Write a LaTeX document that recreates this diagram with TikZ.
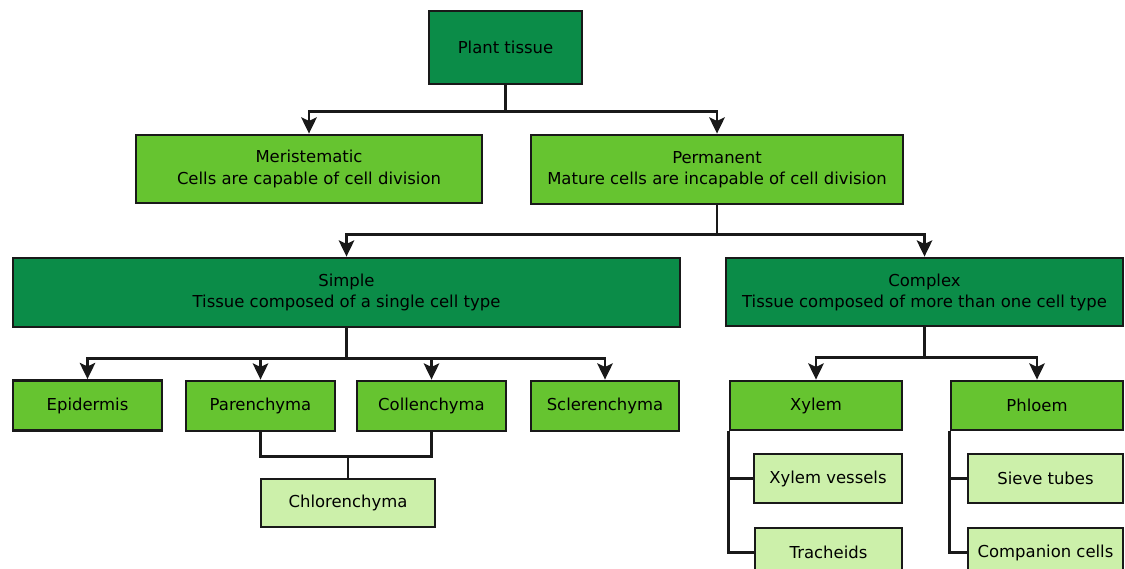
\documentclass[tikz,border=0pt]{standalone}
\usepackage{fontspec}
\setmainfont{DejaVu Sans}
\usepackage{xcolor}
\usepackage{tikz}
\usetikzlibrary{arrows.meta,positioning,calc}
\definecolor{tissuedark}{RGB}{11,140,72}
\definecolor{tissuemid}{RGB}{102,196,48}
\definecolor{tissuelight}{RGB}{204,240,170}

\begin{document}
\begin{tikzpicture}[
    x=0.025cm,y=-0.025cm,
    >={Stealth[length=11.5pt,width=11pt,inset=2.5pt]},
    flow/.style={->,line width=2pt,draw=black!90},
    link/.style={line width=2pt,draw=black!90},
    rootbox/.style={draw=black!90,line width=2pt,fill=tissuedark,inner sep=0pt,
      align=center,font=\fontsize{11.7}{15}\selectfont},
    groupbox/.style={draw=black!90,line width=2pt,fill=tissuemid,inner sep=0pt,
      align=center,font=\fontsize{11.7}{15}\selectfont},
    leafbox/.style={draw=black!90,line width=2pt,fill=tissuelight,inner sep=0pt,
      align=center,font=\fontsize{11.7}{15}\selectfont}
  ]
    \useasboundingbox (0,0) rectangle (1125,568);
    \clip (0,0) rectangle (1125,568);

    % Top level: plant tissue and its two classes.
    \node[rootbox,minimum width=3.825cm,minimum height=1.825cm] (plant) at (505.5,47.5) {Plant tissue};
    \node[groupbox,minimum width=8.65cm,minimum height=1.7cm] (meri) at (309,169)
      {Meristematic\\Cells are capable of cell division};
    \node[groupbox,minimum width=9.3cm,minimum height=1.725cm] (perm) at (717,169.5)
      {Permanent\\Mature cells are incapable of cell division};
    \draw[link] (plant.south) -- ++(0,26) coordinate (forkA);
    \draw[flow] (forkA) -| (meri.north);
    \draw[flow] (forkA) -| (perm.north);

    % Permanent tissue: simple and complex.
    \node[rootbox,minimum width=16.675cm,minimum height=1.725cm] (simple) at (346.5,292.5)
      {Simple\\Tissue composed of a single cell type};
    \node[rootbox,minimum width=9.925cm,minimum height=1.7cm] (complex) at (924.5,292)
      {Complex\\Tissue composed of more than one cell type};
    \draw[link] (perm.south) -- ++(0,29) coordinate (forkB);
    \draw[flow] (forkB) -| (simple.north);
    \draw[flow] (forkB) -| (complex.north);

    % Simple tissues.
    \node[groupbox,minimum width=3.725cm,minimum height=1.25cm] (epi) at (87.5,405.5) {Epidermis};
    \node[groupbox,minimum width=3.725cm,minimum height=1.25cm] (paren) at (260.5,406) {Parenchyma};
    \node[groupbox,minimum width=3.725cm,minimum height=1.25cm] (collen) at (431.5,406) {Collenchyma};
    \node[groupbox,minimum width=3.7cm,minimum height=1.25cm] (scler) at (605,406) {Sclerenchyma};
    \node[leafbox,minimum width=4.35cm,minimum height=1.2cm] (chlor) at (348,503) {Chlorenchyma};
    \draw[link] (simple.south) -- ++(0,30) coordinate (forkC);
    \draw[flow] (forkC) -| (epi.north);
    \draw[flow] (forkC) -| (paren.north);
    \draw[flow] (forkC) -| (collen.north);
    \draw[flow] (forkC) -| (scler.north);
    \draw[link] (paren.south) -- ++(0,24) coordinate (joinP) -| (collen.south);
    \draw[link] (chlor.north) -- (chlor.north |- joinP);

    % Complex tissues.
    \node[groupbox,minimum width=4.3cm,minimum height=1.225cm] (xylem) at (816,405.5) {Xylem};
    \node[groupbox,minimum width=4.3cm,minimum height=1.225cm] (phloem) at (1037,405.5) {Phloem};
    \draw[link] (complex.south) -- ++(0,30) coordinate (forkD);
    \draw[flow] (forkD) -| (xylem.north);
    \draw[flow] (forkD) -| (phloem.north);

    \node[leafbox,minimum width=3.7cm,minimum height=1.225cm] (xves) at (828,478.5) {Xylem vessels};
    \node[leafbox,minimum width=3.675cm,minimum height=1.225cm] (trach) at (828.5,552.5) {Tracheids};
    \node[leafbox,minimum width=3.875cm,minimum height=1.225cm] (sieve) at (1045.5,478.5) {Sieve tubes};
    \node[leafbox,minimum width=3.875cm,minimum height=1.225cm] (comp) at (1045.5,552.5) {Companion cells};
    \draw[link] (xylem.south west) |- (xves.west);
    \draw[link] (xylem.south west) |- (trach.west);
    \draw[link] (phloem.south west) |- (sieve.west);
    \draw[link] (phloem.south west) |- (comp.west);
  \end{tikzpicture}
\end{document}
